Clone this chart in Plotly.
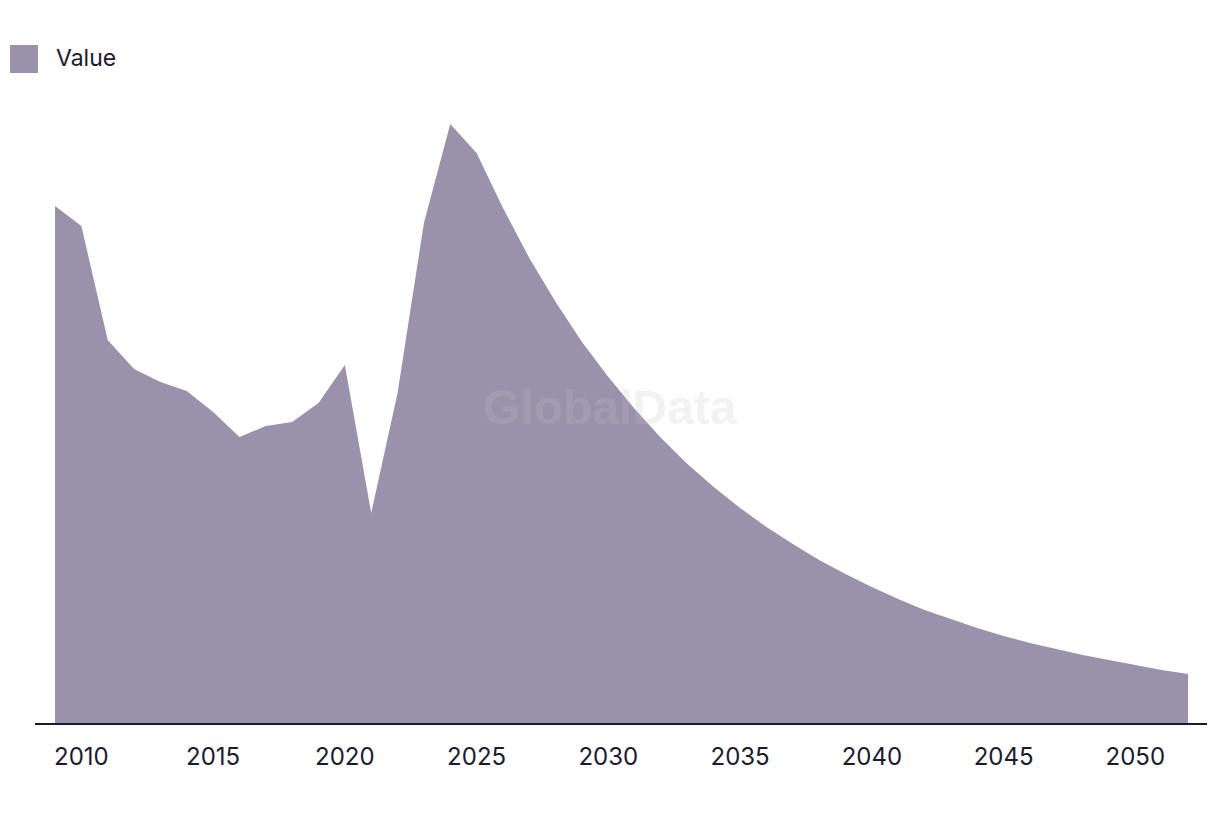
import plotly.graph_objects as go

years = list(range(2009, 2053))
values = [517, 497, 383, 354, 341, 332, 311, 286, 297, 301, 320, 358, 210, 330, 500,
          599, 570, 515, 465, 421, 381, 346, 314, 285, 259, 236, 215, 196, 179, 163,
          149, 136, 124, 113, 104, 95, 87, 80, 74, 68, 63, 58, 53, 49]
tick_vals = [2010, 2015, 2020, 2025, 2030, 2035, 2040, 2045, 2050]
series_name = "Value"

FILL = "rgb(154,145,171)"
TEXT = "#1b1a2e"
FONT = "Inter"

fig = go.Figure()
fig.add_trace(go.Scatter(
    x=years, y=values, mode="lines", fill="tozeroy",
    line=dict(width=0, color=FILL), fillcolor=FILL,
    name=series_name, showlegend=False, hoverinfo="x+y",
))

fig.update_layout(
    width=1220, height=814,
    margin=dict(l=35, r=13, t=23, b=91),
    paper_bgcolor="white", plot_bgcolor="white",
    font=dict(family=FONT, size=22, color=TEXT),
    xaxis=dict(
        range=[2008.24, 2052.72], tickvals=tick_vals,
        showgrid=False, zeroline=False,
        showline=True, linecolor=TEXT, linewidth=2,
        ticks="", ticklabelstandoff=11,
        tickfont=dict(family=FONT, size=24, color=TEXT),
    ),
    yaxis=dict(range=[0, 700], visible=False, showgrid=False, zeroline=False),
    showlegend=False,
)

# legend swatch + label
fig.add_shape(type="rect", xref="paper", yref="paper",
              x0=(10 - 35) / 1172, x1=(38 - 35) / 1172,
              y0=(723 - 73) / 700, y1=(723 - 45) / 700,
              fillcolor=FILL, line=dict(width=0))
fig.add_annotation(text=series_name, xref="paper", yref="paper",
                   x=(54 - 35) / 1172, y=(723 - 58) / 700,
                   xanchor="left", yanchor="middle", showarrow=False,
                   font=dict(family=FONT, size=23, color=TEXT))

# watermark
fig.add_annotation(text="<b>GlobalData</b>", xref="paper", yref="paper",
                   x=(610 - 35) / 1172, y=(723 - 407) / 700,
                   xanchor="center", yanchor="middle", showarrow=False,
                   font=dict(family="Liberation Sans", size=48, color="rgba(197,197,197,0.22)"))

fig.write_html("out.html")
